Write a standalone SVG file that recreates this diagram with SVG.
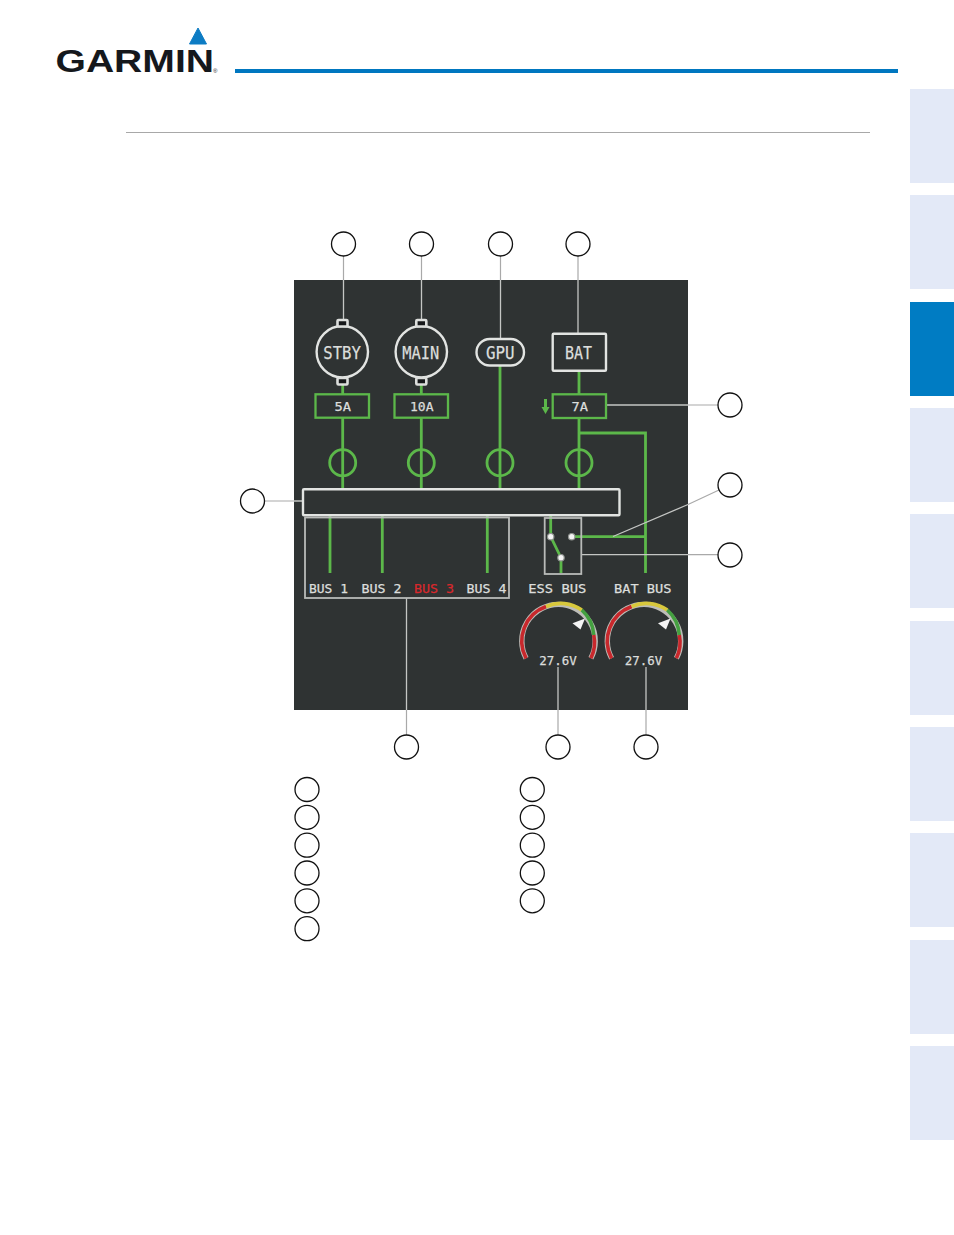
<svg xmlns="http://www.w3.org/2000/svg" width="954" height="1235" viewBox="0 0 954 1235">
<style>
.tab{fill:#e3e9f7}
.lead{fill:none;stroke:#a9a9a9;stroke-width:1.2}
.leadp{fill:none;stroke:#c4c6c4;stroke-width:1.3}
.num{fill:#fff;stroke:#111;stroke-width:1.3}
.w{fill:none;stroke:#e2e4e2;stroke-width:2.4}
.box{fill:none;stroke:#b9bbb9;stroke-width:1.8}
.g{fill:none;stroke:#5cb84a;stroke-width:2.8}
.gt{fill:#2f3333;stroke:#5cb84a;stroke-width:2.3}
.cap{fill:#16181a;stroke:#dcdedc;stroke-width:2.6}
.t{font-family:"DejaVu Sans Mono","Liberation Mono",monospace;fill:#dcdedc;stroke:#dcdedc;stroke-width:.25}
.s{font-size:13px}
.m{font-size:18px}
.dot{fill:#f4f4f4;stroke:#8f938f;stroke-width:1.2}
.rim{fill:none;stroke:#bdbdb8;stroke-width:5.4}
.red{fill:none;stroke:#c8282c;stroke-width:3.6}
.yel{fill:none;stroke:#d8c83c;stroke-width:3.6}
.grn{fill:none;stroke:#44a040;stroke-width:3.6}
</style>
<defs>
<g id="gauge">
<path class="rim" d="M-32.4 17.3A36.7 36.7 0 1 1 32.4 17.3"/>
<path class="red" d="M-32.4 17.3A36.7 36.7 0 0 1 -12.4 -34.5"/>
<path class="yel" d="M-12.4 -34.5A36.7 36.7 0 0 1 23.3 -31"/>
<path class="grn" d="M23.3 -31A36.7 36.7 0 0 1 35.3 -6"/>
<path class="red" d="M35.3 -6A36.7 36.7 0 0 1 32.4 17.3"/>
<polygon points="26.500,-22.500 14,-17.700 22,-11.500" fill="#f4f4f4"/>
</g>
</defs>
<rect width="954" height="1235" fill="#fff"/>
<g id="header">
<text x="55.500" y="72" font-family="Liberation Sans,Arial,sans-serif" font-weight="700" font-size="31" fill="#15181c" textLength="158.500" lengthAdjust="spacingAndGlyphs">GARMIN</text>
<text x="213" y="72.500" font-family="Liberation Sans,Arial,sans-serif" font-size="6" fill="#15181c">®</text>
<path d="M198 28L206.500 44H189.500Z" fill="#0d7cc4" stroke="#0d7cc4" stroke-width="1" stroke-linejoin="round"/>
<rect x="235" y="69" width="663" height="4" fill="#0077c0"/>
<rect x="126" y="132" width="744" height="1" fill="#a8a8a8"/>
</g>
<g id="tabs">
<rect class="tab" x="910" y="89" width="44" height="94"/>
<rect class="tab" x="910" y="195" width="44" height="94"/>
<rect x="910" y="302" width="44" height="94" fill="#007cc3"/>
<rect class="tab" x="910" y="408" width="44" height="94"/>
<rect class="tab" x="910" y="514" width="44" height="94"/>
<rect class="tab" x="910" y="621" width="44" height="94"/>
<rect class="tab" x="910" y="727" width="44" height="94"/>
<rect class="tab" x="910" y="833" width="44" height="94"/>
<rect class="tab" x="910" y="940" width="44" height="94"/>
<rect class="tab" x="910" y="1046" width="44" height="94"/>
</g>
<rect id="panel" x="294" y="280" width="394" height="430" fill="#2f3333"/>
<g id="connectors">
<path class="g" d="M342.700 385V489M421.300 385V489M500 366V489M579 371V489M579 433H645.500V573"/>
<path class="g" d="M330 516V573M382.300 516V573M487.300 516V573"/>
<path class="g" d="M550.700 516V536.700L561 557.700V573M571.700 536.700H645.500"/>
<path class="lead" d="M343.500 256V280M421.500 256V280M500.500 256V280M578 256V280"/>
<path class="leadp" d="M343.500 280V319M421.500 280V319M500.500 280V339M578 280V333"/>
<path class="lead" d="M688 405H718M688 554.700H718M264.500 501H294M406.500 710V735M558 710V735M646 710V735M688 504.500L719 490"/>
<path class="leadp" d="M606 405H688M581.500 554.700H688M294 501H303M406.500 598V710M558 667V710M646 667V710M613 536.500L688 504.500"/>
</g>
<g id="node-stby">
<circle class="w" cx="342.300" cy="351.700" r="25.700"/>
<rect class="cap" x="337.500" y="320" width="10" height="6.500" rx="1"/>
<rect class="cap" x="337.500" y="378" width="10" height="6.500" rx="1"/>
<text class="t m" x="323.300" y="358.800" textLength="37.500" lengthAdjust="spacingAndGlyphs">STBY</text>
</g>
<g id="node-main">
<circle class="w" cx="421.300" cy="351.700" r="25.700"/>
<rect class="cap" x="416.300" y="320" width="10" height="6.500" rx="1"/>
<rect class="cap" x="416.300" y="378" width="10" height="6.500" rx="1"/>
<text class="t m" x="402.300" y="358.800" textLength="37" lengthAdjust="spacingAndGlyphs">MAIN</text>
</g>
<g id="node-gpu">
<rect class="w" x="476.500" y="339" width="47.500" height="26.500" rx="13.250"/>
<text class="t m" x="486" y="358.500" textLength="28.500" lengthAdjust="spacingAndGlyphs">GPU</text>
</g>
<g id="node-bat">
<rect class="w" x="552.700" y="333.700" width="53.300" height="37" rx="1"/>
<text class="t m" x="565" y="358.500" textLength="27" lengthAdjust="spacingAndGlyphs">BAT</text>
</g>
<g id="node-5a">
<rect class="gt" x="315.500" y="394.300" width="53.500" height="23.400"/>
<text class="t s" x="334.500" y="411" textLength="16.500" lengthAdjust="spacingAndGlyphs">5A</text>
</g>
<g id="node-10a">
<rect class="gt" x="394.500" y="394.300" width="53.500" height="23.400"/>
<text class="t s" x="410" y="411" textLength="23.500" lengthAdjust="spacingAndGlyphs">10A</text>
</g>
<g id="node-7a">
<rect class="gt" x="552.700" y="394.300" width="53.300" height="23.700"/>
<text class="t s" x="571.500" y="411" textLength="16.500" lengthAdjust="spacingAndGlyphs">7A</text>
<path d="M544 399H547V407H549.500L545.500 414L541.500 407H544Z" fill="#5cb84a"/>
</g>
<g id="node-breakers">
<circle class="g" cx="342.700" cy="462.700" r="13"/>
<circle class="g" cx="421.300" cy="462.700" r="13"/>
<circle class="g" cx="500" cy="462.700" r="13"/>
<circle class="g" cx="579" cy="462.700" r="13"/>
</g>
<g id="node-bus">
<rect class="w" x="303" y="489.300" width="316.500" height="26" rx="1"/>
</g>
<g id="node-buses">
<rect class="box" x="305" y="517.500" width="204" height="80.500"/>
<text class="t s" x="309" y="593" textLength="39" lengthAdjust="spacingAndGlyphs">BUS 1</text>
<text class="t s" x="361.500" y="593" textLength="40" lengthAdjust="spacingAndGlyphs">BUS 2</text>
<text class="t s" x="414" y="593" textLength="40" lengthAdjust="spacingAndGlyphs" style="fill:#d8282c;stroke:#d8282c">BUS 3</text>
<text class="t s" x="466.500" y="593" textLength="40" lengthAdjust="spacingAndGlyphs">BUS 4</text>
</g>
<g id="node-switch">
<rect class="box" x="544.700" y="518" width="36.600" height="56"/>
<circle class="dot" cx="550.700" cy="536.700" r="3.200"/>
<circle class="dot" cx="571.700" cy="536.700" r="3.200"/>
<circle class="dot" cx="561" cy="557.700" r="3.200"/>
<text class="t s" x="528.300" y="592.700" textLength="58" lengthAdjust="spacingAndGlyphs">ESS BUS</text>
<text class="t s" x="614" y="592.700" textLength="57.500" lengthAdjust="spacingAndGlyphs">BAT BUS</text>
</g>
<g id="node-gauge-ess">
<use href="#gauge" x="558.500" y="641"/>
<text class="t s" x="539.300" y="664.700" textLength="37.500" lengthAdjust="spacingAndGlyphs">27.6V</text>
</g>
<g id="node-gauge-bat">
<use href="#gauge" x="644" y="641"/>
<text class="t s" x="624.800" y="664.700" textLength="37.500" lengthAdjust="spacingAndGlyphs">27.6V</text>
</g>
<g id="callouts">
<circle class="num" cx="343.500" cy="244" r="12"/>
<circle class="num" cx="421.500" cy="244" r="12"/>
<circle class="num" cx="500.500" cy="244" r="12"/>
<circle class="num" cx="578" cy="244" r="12"/>
<circle class="num" cx="730" cy="405" r="12"/>
<circle class="num" cx="730" cy="485" r="12"/>
<circle class="num" cx="730" cy="555" r="12"/>
<circle class="num" cx="252.500" cy="501" r="12"/>
<circle class="num" cx="406.500" cy="747" r="12"/>
<circle class="num" cx="558" cy="747" r="12"/>
<circle class="num" cx="646" cy="747" r="12"/>
</g>
<g id="legend">
<circle class="num" cx="307" cy="789.500" r="12"/>
<circle class="num" cx="307" cy="817.300" r="12"/>
<circle class="num" cx="307" cy="845.200" r="12"/>
<circle class="num" cx="307" cy="873" r="12"/>
<circle class="num" cx="307" cy="900.800" r="12"/>
<circle class="num" cx="307" cy="928.700" r="12"/>
<circle class="num" cx="532.300" cy="789.500" r="12"/>
<circle class="num" cx="532.300" cy="817.300" r="12"/>
<circle class="num" cx="532.300" cy="845.200" r="12"/>
<circle class="num" cx="532.300" cy="873" r="12"/>
<circle class="num" cx="532.300" cy="900.800" r="12"/>
</g>
</svg>
